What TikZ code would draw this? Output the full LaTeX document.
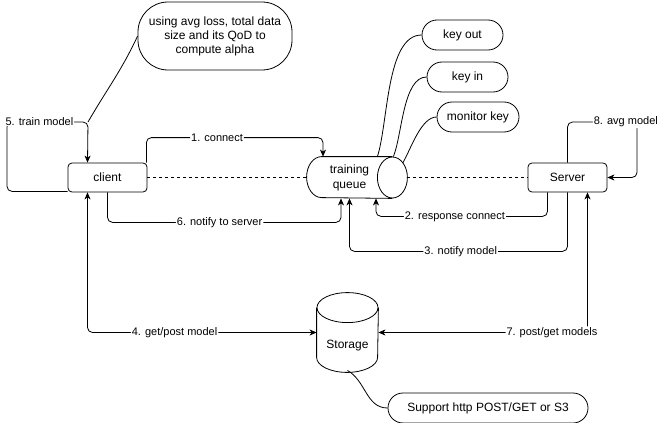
\documentclass[tikz,border=0pt]{standalone}
\usepackage{fontspec}
\setmainfont{Liberation Sans}
\usetikzlibrary{arrows.meta}

\begin{document}
\begin{tikzpicture}[x=1pt, y=-1pt, line width=0.8pt,
	box/.style={draw, rounded corners=4pt, minimum width=79pt, minimum height=29pt, font=\fontsize{12}{14}\selectfont},
	pill/.style={draw, rounded corners=15pt, minimum height=30pt, inner xsep=8pt, font=\fontsize{12}{14}\selectfont},
	cyl/.style={align=center, inner sep=0pt, font=\fontsize{12}{15}\selectfont},
	lbl/.style={fill=white, inner sep=1pt, font=\fontsize{11}{13}\selectfont},
	arr/.style={-{Stealth[length=7pt, width=6pt, inset=2pt]}, rounded corners=5pt},
	darr/.style={{Stealth[length=7pt, width=6pt, inset=2pt]}-{Stealth[length=7pt, width=6pt, inset=2pt]}, rounded corners=5pt}]
		\useasboundingbox (0,0) rectangle (657,423);

		\node[box] (client) at (107.5,177.5) {client};
		\node[box] (server) at (567.5,177.5) {Server};
		\node[cyl, minimum width=85pt, minimum height=41pt] (queue) at (349.5,177.5) {training\\queue};
		\node[cyl, minimum width=61pt, minimum height=79pt, text height=32pt, text depth=0pt] (storage) at (347.5,332.5) {Storage};
		\node[draw, rounded corners=30pt, minimum width=154pt, minimum height=68pt, align=center, font=\fontsize{12}{14}\selectfont] (note) at (215,36) {using avg loss, total data\\size and its QoD to\\compute alpha};
		\node[pill, minimum width=81pt] (keyout) at (462.5,35) {key out};
		\node[pill, minimum width=81pt] (keyin) at (467.5,77) {key in};
		\node[pill, minimum width=82pt] (monitor) at (478,117) {monitor key};
		\node[pill, minimum width=200pt] (support) at (488,408) {Support http POST/GET or S3};

		% cylinder outlines
		\draw ([xshift=15pt]queue.north west) -- (queue.north east)
			([xshift=15pt]queue.north west) arc (90:270:15pt and 20.5pt) -- (queue.south east);
		\draw (queue.east) ellipse [x radius=15pt, y radius=20.5pt];
		\draw ([yshift=-15pt]storage.north) ellipse [x radius=30.5pt, y radius=15pt];
		\draw ([yshift=-15pt]storage.north west) -- ([yshift=15pt]storage.south west)
			arc (180:360:30.5pt and 15pt) -- ([yshift=-15pt]storage.north east);

		\draw[dashed] (client.east) -- (queue.west);
		\draw[dashed] ([xshift=15pt]queue.east) -- (server.west);

		\draw[arr] ([xshift=-1pt]client.north east) -- ++(0,-25) -| ([xshift=-26.5pt]queue.north) node[lbl, pos=0.2] {1. connect};
		\draw[arr] ([xshift=-20pt]server.south) -- ++(0,24) -| ([xshift=26.5pt]queue.south) node[lbl, pos=0.27] {2. response connect};
		\draw[arr] (server.south) -- ++(0,59) -| (queue.south) node[lbl, pos=0.245] {3. notify model};
		\draw[darr] ([xshift=-20pt]client.south) |- (storage.west) node[lbl, pos=0.69] {4. get/post model};
		\draw[arr] ([yshift=1pt]client.south west) -| (7,122) -- (88,122) coordinate (tm) node[lbl, pos=0.4] {5. train model} -- ([xshift=-20pt]client.north);
		\draw[arr] (client.south) -- ++(0,30) -| ([xshift=-8.5pt]queue.south) node[lbl, pos=0.24] {6. notify to server};
		\draw[darr] ([xshift=20pt]server.south) |- (storage.east) node[lbl, pos=0.585] {7. post/get models};
		\draw[arr] (server.north) |- (637,122) node[lbl, pos=0.92] {8. avg model} |- (server.east);

		\draw (note.west) to[out=-115, in=60] (tm);
		\draw ([xshift=-15pt]queue.north east) to[out=72, in=180, looseness=0.7] (keyout.west);
		\draw ([xshift=1pt]queue.north east) to[out=68, in=180, looseness=0.7] (keyin.west);
		\draw ([xshift=10.6pt, yshift=-6pt]queue.north east) to[out=60, in=180, looseness=0.7] (monitor.west);
		\draw ([yshift=2pt]storage.south) to[out=-30, in=180] (support.west);
	\end{tikzpicture}
\end{document}
